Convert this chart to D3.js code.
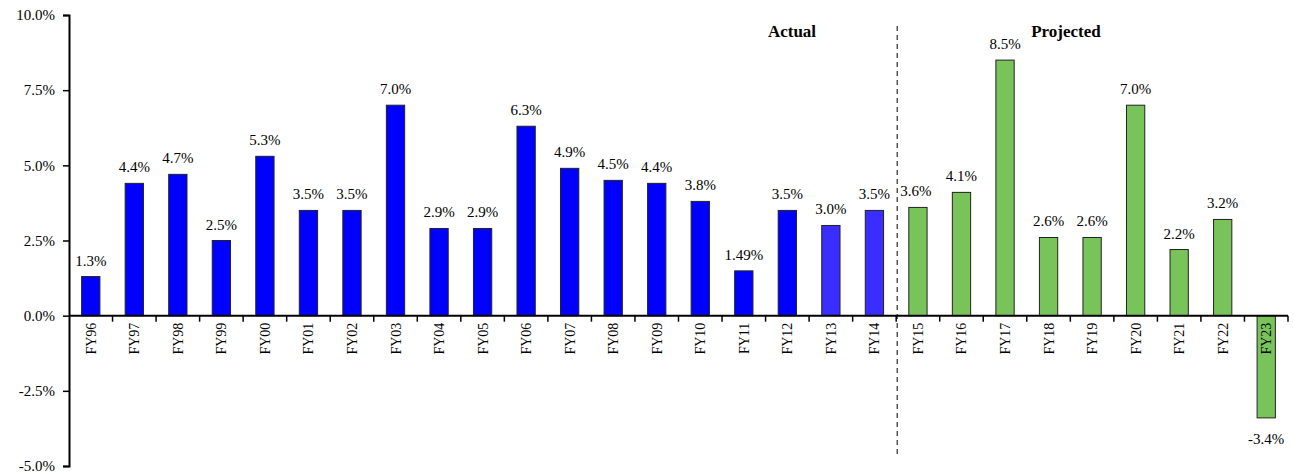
<!DOCTYPE html>
<html><head><meta charset="utf-8">
<script src="https://cdn.jsdelivr.net/npm/d3@7"></script>
<style>body{margin:0;background:#fff}svg{display:block}text{font-family:"Liberation Serif","Times New Roman",serif;fill:#000}</style>
</head><body><svg id="c" width="1294" height="476"></svg>
<script>
const categories=["FY96","FY97","FY98","FY99","FY00","FY01","FY02","FY03","FY04","FY05","FY06","FY07","FY08","FY09","FY10","FY11","FY12","FY13","FY14","FY15","FY16","FY17","FY18","FY19","FY20","FY21","FY22","FY23"];
const values=[1.3,4.4,4.7,2.5,5.3,3.5,3.5,7.0,2.9,2.9,6.3,4.9,4.5,4.4,3.8,1.49,3.5,3.0,3.5,3.6,4.1,8.5,2.6,2.6,7.0,2.2,3.2,-3.4];
const periods=["A","A","A","A","A","A","A","A","A","A","A","A","A","A","A","A","A","A2","A2","P","P","P","P","P","P","P","P","P"];
const yTicks=[-5,-2.5,0,2.5,5,7.5,10];
const sectionLabels=["Actual","Projected"];

const svg=d3.select("#c");
const x=d3.scaleBand().domain(categories).range([69,1288]).paddingInner(0.58).paddingOuter(0.29);
const y=d3.scaleLinear().domain([-5,10]).range([466,15]);
const color={A:"#0000ff",A2:"#3a2dff",P:"#78c45a"};
const hy=s=>s.replace("\u2212","-");

// bars
svg.append("g").selectAll("rect").data(values).join("rect")
 .attr("x",(d,i)=>x(categories[i])).attr("width",x.bandwidth())
 .attr("y",d=>y(Math.max(0,d))).attr("height",d=>Math.abs(y(d)-y(0)))
 .attr("fill",(d,i)=>color[periods[i]]).attr("stroke","#222").attr("stroke-width",1);

// value labels
const fmt=v=>hy(Math.round(v*10)/10===v?d3.format(".1f")(v):d3.format(".2f")(v))+"%";
svg.append("g").selectAll("text").data(values).join("text")
 .attr("x",(d,i)=>x(categories[i])+x.bandwidth()/2-(i===19?2:0))
 .attr("y",d=>d>=0?y(d)-11:y(d)+26)
 .attr("text-anchor","middle").attr("font-size",15).text(fmt);

// y axis
const ya=svg.append("g").attr("transform","translate(69,0)")
 .call(d3.axisLeft(y).tickValues(yTicks).tickSize(6).tickFormat(d=>hy(d3.format(".1f")(d))+"%"));
ya.attr("font-family",null);
ya.select(".domain").attr("stroke","#000").attr("stroke-width",2);
ya.selectAll(".tick line").attr("stroke","#000").attr("stroke-width",1.5);
ya.selectAll(".tick text").attr("font-size",15).attr("x",-14).attr("fill","#000");

// x axis at zero
const n=categories.length;
const xa=svg.append("g").attr("transform",`translate(0,${y(0)})`);
xa.append("line").attr("x1",69).attr("x2",1288).attr("stroke","#000").attr("stroke-width",2);
xa.selectAll("line.tk").data(d3.range(1,n+1)).join("line").attr("class","tk")
 .attr("x1",i=>69+i*(1288-69)/n).attr("x2",i=>69+i*(1288-69)/n)
 .attr("y1",0).attr("y2",6).attr("stroke","#000").attr("stroke-width",1.5);
xa.selectAll("text").data(categories).join("text")
 .attr("transform",d=>`translate(${x(d)+x.bandwidth()/2+5},7) rotate(-90)`)
 .attr("text-anchor","end").attr("font-size",14).text(d=>d);

// divider
const divX=69+19*(1288-69)/n+1;
svg.append("line").attr("x1",divX).attr("x2",divX).attr("y1",26).attr("y2",456)
 .attr("stroke","#000").attr("stroke-width",1).attr("stroke-dasharray","5,4");

// section labels
svg.append("text").attr("x",792).attr("y",37).attr("text-anchor","middle").attr("font-weight","bold").attr("font-size",17).text(sectionLabels[0]);
svg.append("text").attr("x",1066).attr("y",37).attr("text-anchor","middle").attr("font-weight","bold").attr("font-size",17).text(sectionLabels[1]);
</script></body></html>
